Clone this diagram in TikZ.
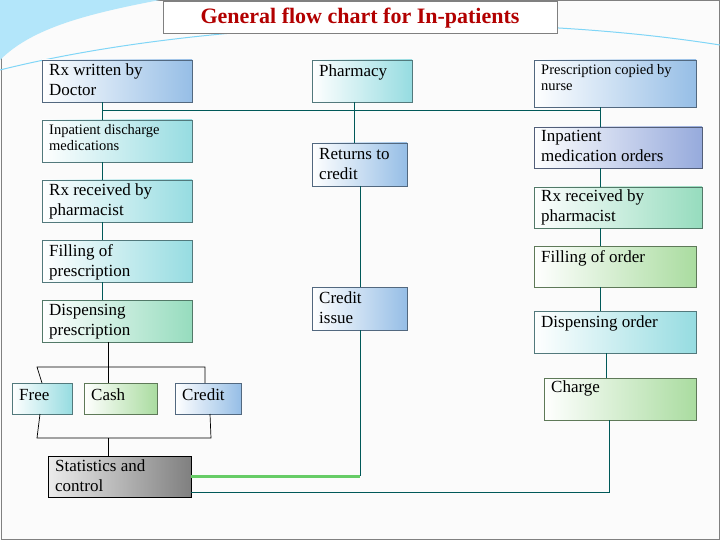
\documentclass[tikz,border=0pt]{standalone}
\usepackage{fontspec}
\setmainfont{Liberation Serif}
\definecolor{cB}{RGB}{150,190,230}
\definecolor{cC}{RGB}{150,220,225}
\definecolor{cG}{RGB}{170,220,160}
\definecolor{cT}{RGB}{150,220,190}
\definecolor{cP}{RGB}{150,170,220}
\begin{document}
\begin{tikzpicture}[x=1pt,y=-1pt,
 ln/.style={draw=teal!70!black,line width=0.9pt},
 bl/.style={black,line width=0.7pt}]
\useasboundingbox (0,0) rectangle (720,540);
\fill[white!97!gray] (0,0) rectangle (720,540);
\draw[gray,line width=1pt] (1,1) rectangle (719,539);
\fill[cyan!30!white] (0,0) -- (160,0) .. controls (80,15) and (30,30) .. (0,60) -- cycle;
\draw[cyan!50!white,line width=1pt] (0,70) .. controls (200,20) and (500,10) .. (720,45);
\node[draw=gray,line width=1pt,fill=white,minimum width=394,minimum height=32,inner sep=0pt,font=\fontsize{22}{24}\selectfont\bfseries,text=red!70!black] (title) at (360,18) {General flow chart for In-patients};
\newcommand{\B}[9]{%
 \shade[left color=white,right color=#6] (#2,#3) rectangle (#4,#5);
 \node[draw=#6!55!black,line width=0.8pt,minimum width=#4-#2,minimum height=#5-#3,inner sep=0pt] (#1) at ({(#2+#4)/2},{(#3+#5)/2}) {};
 \node[anchor=north west,align=left,inner sep=0pt,font=#8] (#1t) at (#2+7,#3+#9) {#7};}
\def\F{\fontsize{17}{20}\selectfont}
\def\S{\fontsize{14.5}{16}\selectfont}
\B{doc}{42}{60}{192}{102}{cB}{Rx written by\\Doctor}{\F}{4}
\B{idm}{42}{120}{192}{162}{cC}{Inpatient discharge\\medications}{\S}{4}
\B{rxp}{42}{180}{192}{222}{cC}{Rx received by\\pharmacist}{\F}{4}
\B{fil}{42}{240}{192}{282}{cC}{Filling of\\prescription}{\F}{4}
\B{dis}{42}{300}{192}{342}{cT}{Dispensing\\prescription}{\F}{4}
\B{pha}{312}{60}{412}{102}{cC}{Pharmacy}{\F}{5}
\B{ret}{312}{143}{407}{186}{cB}{Returns to\\credit}{\F}{5}
\B{cri}{312}{287}{407}{330}{cB}{Credit\\issue}{\F}{5}
\B{nur}{534}{60}{696}{107}{cB}{Prescription copied by\\nurse}{\S}{4}
\B{imo}{534}{127}{702}{168}{cP}{Inpatient\\medication orders}{\F}{3}
\B{rx2}{534}{187}{702}{228}{cT}{Rx received by\\pharmacist}{\F}{3}
\B{fio}{534}{246}{696}{287}{cG}{Filling of order}{\F}{4}
\B{dio}{534}{311}{696}{353}{cC}{Dispensing order}{\F}{5}
\B{cha}{544}{378}{696}{420}{cG}{Charge}{\F}{3}
\B{fre}{12}{383}{72}{414}{cC}{Free}{\F}{6}
\B{cas}{84}{383}{157}{414}{cG}{Cash}{\F}{6}
\B{cre}{175}{383}{241}{414}{cB}{Credit}{\F}{6}
\shade[left color=white!85!gray,right color=gray] (48,456) rectangle (191,497);
\node[draw=black,line width=0.9pt,minimum width=143,minimum height=41,inner sep=0pt] (sta) at (119.5,476.5) {};
\node[anchor=north west,align=left,inner sep=0pt,font=\F] (stat) at (55,460) {Statistics and\\control};
\coordinate (h1) at (102,110); \coordinate (h2) at (600,110);
\draw[ln] (doc.south -| h1) -- (idm.north -| h1);
\draw[ln] (h1) -- (h2);
\draw[ln] (h2) -- (nur.south -| h2);
\draw[ln] (h2) -- (imo.north -| h2);
\draw[ln] (354,102) -- (354,143);
\draw[ln] (102,162) -- (102,180);
\draw[ln] (102,222) -- (102,240);
\draw[ln] (102,282) -- (102,300);
\draw[ln] (360,186) -- (360,287);
\coordinate (g) at (360,476);
\draw[ln] (360,330) -- (g);
\draw[green!50!gray!80,line width=3pt] (sta.east |- g) -- (g);
\draw[ln] (600,168) -- (600,187);
\draw[ln] (600,228) -- (600,246);
\draw[ln] (600,287) -- (600,311);
\draw[ln] (606,353) -- (606,378);
\coordinate (c) at (609,492);
\draw[ln] (609,420) -- (c) -- (sta.east |- c);
\draw[bl] (108,342) -- (108,383);
\draw[bl] (42,383) -- (37,367) -- (205,367) -- (205,383);
\draw[bl] (40,414) -- (37,438) -- (211,438) -- (210,414);
\draw[bl] (108,438) -- (108,456);
\end{tikzpicture}
\end{document}
